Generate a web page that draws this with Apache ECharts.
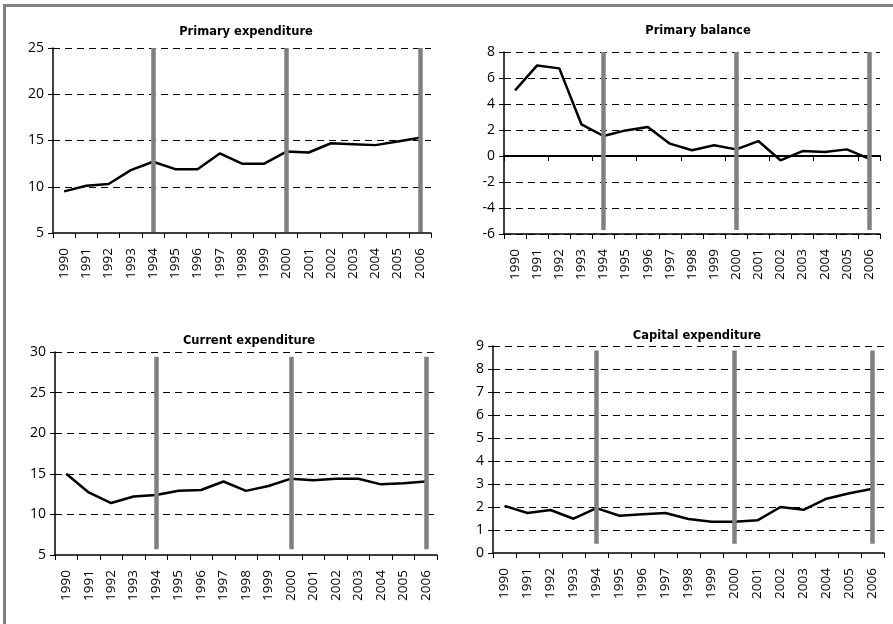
<!DOCTYPE html>
<html>
<head>
<meta charset="utf-8">
<script src="https://cdn.jsdelivr.net/npm/echarts@6/dist/echarts.min.js"></script>
<style>
  html, body { margin: 0; padding: 0; background: #fff; }
  #main { width: 893px; height: 624px; }
</style>
</head>
<body>
<div id="main"></div>
<script>
const years = ['1990', '1991', '1992', '1993', '1994', '1995', '1996', '1997', '1998',
  '1999', '2000', '2001', '2002', '2003', '2004', '2005', '2006'];
const primaryExpenditure = [9.5, 10.1, 10.3, 11.8, 12.7, 11.9, 11.9, 13.6, 12.5, 12.5, 13.8, 13.7, 14.7, 14.6, 14.5, 14.9, 15.3];
const primaryBalance = [5.05, 6.97, 6.74, 2.44, 1.54, 1.97, 2.23, 0.95, 0.44, 0.82, 0.51, 1.15, -0.33, 0.38, 0.31, 0.51, -0.2];
const currentExpenditure = [15.0, 12.7, 11.4, 12.2, 12.4, 12.9, 13.0, 14.05, 12.9, 13.5, 14.4, 14.2, 14.4, 14.4, 13.7, 13.85, 14.05];
const capitalExpenditure = [2.05, 1.74, 1.87, 1.49, 1.95, 1.62, 1.68, 1.74, 1.48, 1.36, 1.36, 1.42, 2.0, 1.88, 2.36, 2.6, 2.79];
const markerYears = ['1994', '2000', '2006'];

const labelFont = 'Open Sans';

// one panel per chart: layout + axis range + span of the grey marker bars
// (bar span must stay inside min..max or ECharts drops the markLine)
const panels = [
  { title: 'Primary expenditure', data: primaryExpenditure, min: 5, max: 25, interval: 5,
    grid: { left: 53, top: 48, width: 378, height: 185 }, titleX: 241, titleY: 21, bar: [5.1, 25] },
  { title: 'Primary balance', data: primaryBalance, min: -6, max: 8, interval: 2,
    grid: { left: 504, top: 52, width: 376, height: 182 }, titleX: 693, titleY: 20, bar: [-5.7, 8], zeroAxis: true },
  { title: 'Current expenditure', data: currentExpenditure, min: 5, max: 30, interval: 5,
    grid: { left: 55, top: 352, width: 382, height: 203 }, titleX: 244, titleY: 330, bar: [5.7, 29.4] },
  { title: 'Capital expenditure', data: capitalExpenditure, min: 0, max: 9, interval: 1,
    grid: { left: 493, top: 346, width: 391, height: 207 }, titleX: 692, titleY: 325, bar: [0.4, 8.8] }
];

const grids = [], xAxes = [], yAxes = [], series = [], titles = [];

const yearLabel = { rotate: 90, interval: 0, fontFamily: labelFont, fontSize: 13.5, color: '#000', margin: 15 };

panels.forEach((p, i) => {
  grids.push(p.grid);
  titles.push({
    text: p.title, left: p.titleX, top: p.titleY, textAlign: 'center',
    textStyle: { fontFamily: 'DejaVu Sans', fontSize: 11.5, fontWeight: 'bold', color: '#000' }
  });
  const yIndex = yAxes.length;
  // the balance panel keeps the default onZero / min split line, otherwise its y axis line vanishes
  const yLine = p.zeroAxis
    ? { show: true, lineStyle: { color: '#000', width: 1.5 } }
    : { show: true, onZero: false, lineStyle: { color: '#000', width: 1.5 } };
  const ySplit = p.zeroAxis
    ? { show: true, lineStyle: { color: '#000', type: [7, 5], width: 1 } }
    : { show: true, showMinLine: false, lineStyle: { color: '#000', type: [7, 5], width: 1 } };
  yAxes.push({
    type: 'value', gridIndex: i, min: p.min, max: p.max, interval: p.interval,
    axisLine: yLine,
    axisTick: { show: true, length: 5, lineStyle: { color: '#000' } },
    axisLabel: { fontFamily: labelFont, fontSize: 14, color: '#000', margin: 9 },
    splitLine: ySplit
  });
  const xIndex = xAxes.length;
  xAxes.push({
    type: 'category', gridIndex: i, data: years, boundaryGap: true, position: 'bottom',
    axisLine: { show: true, onZero: false, lineStyle: { color: '#000', width: 1.5 } },
    axisTick: { show: true, length: 5, lineStyle: { color: '#000' } },
    axisLabel: yearLabel
  });
  if (p.zeroAxis) {
    // balance panel: a second axis line with ticks crosses at zero
    xAxes.push({
      type: 'category', gridIndex: i, data: years, boundaryGap: true, position: 'bottom',
      axisLine: { show: true, onZero: true, onZeroAxisIndex: yIndex, lineStyle: { color: '#000', width: 2 } },
      axisTick: { show: true, length: 5, lineStyle: { color: '#000' } },
      axisLabel: { show: false }
    });
  }
  series.push({
    type: 'line', xAxisIndex: xIndex, yAxisIndex: yIndex, data: p.data,
    showSymbol: false, symbol: 'none', silent: true,
    lineStyle: { color: '#000', width: 2.5 },
    markLine: {
      symbol: 'none', silent: true, label: { show: false },
      lineStyle: { color: '#808080', width: 4.5, type: 'solid' },
      data: markerYears.map((y) => [{ xAxis: y, yAxis: p.bar[0] }, { xAxis: y, yAxis: p.bar[1] }])
    },
    z: 3
  });
});

const chart = echarts.init(document.getElementById('main'));
chart.setOption({
  animation: false,
  backgroundColor: '#fff',
  title: titles,
  grid: grids,
  xAxis: xAxes,
  yAxis: yAxes,
  series: series,
  graphic: [
    { type: 'rect', shape: { x: 3, y: 4, width: 890, height: 3 }, style: { fill: '#808080' } },
    { type: 'rect', shape: { x: 3, y: 4, width: 3, height: 620 }, style: { fill: '#808080' } }
  ]
});
</script>
</body>
</html>
